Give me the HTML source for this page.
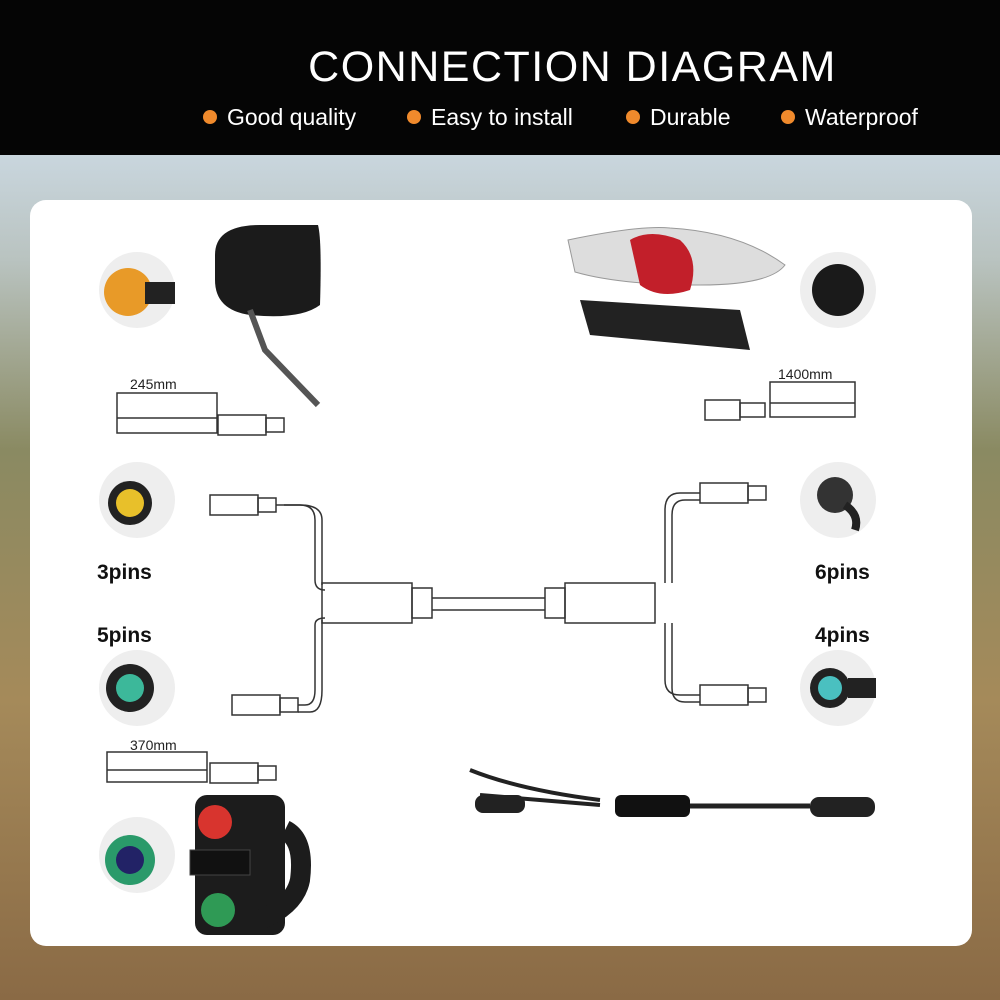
<!DOCTYPE html>
<html><head><meta charset="utf-8">
<style>
html,body{margin:0;padding:0;width:1000px;height:1000px;overflow:hidden;font-family:"Liberation Sans",sans-serif;}
#bg{position:absolute;left:0;top:0;width:1000px;height:1000px;
background:linear-gradient(180deg,#c9d6de 155px,#b9c3c0 260px,#8a8a62 450px,#a58a5a 700px,#8a6a45 1000px);}
#hdr{position:absolute;left:0;top:0;width:1000px;height:155px;background:#050505;}
#title{position:absolute;left:0;width:1000px;top:43px;text-align:center;padding-left:145px;box-sizing:border-box;color:#fff;font-size:43px;letter-spacing:1.5px;}
.b{position:absolute;top:104px;color:#fff;font-size:23px;}
.b:before{content:"";display:inline-block;width:14px;height:14px;border-radius:50%;background:#f08a2c;margin-right:10px;vertical-align:1px;}
#card{position:absolute;left:30px;top:200px;width:942px;height:746px;background:#fff;border-radius:16px;}
.lbl{position:absolute;font-weight:bold;font-size:21px;color:#111;}
svg{position:absolute;left:0;top:0;}
</style></head><body>
<div id="bg"></div>
<div id="hdr"></div>
<div id="title">CONNECTION DIAGRAM</div>
<div class="b" style="left:203px">Good quality</div>
<div class="b" style="left:407px">Easy to install</div>
<div class="b" style="left:626px">Durable</div>
<div class="b" style="left:781px">Waterproof</div>
<div id="card"></div>
<div class="lbl" style="left:97px;top:561px">3pins</div>
<div class="lbl" style="left:97px;top:624px">5pins</div>
<div class="lbl" style="left:815px;top:561px">6pins</div>
<div class="lbl" style="left:815px;top:624px">4pins</div>
<svg width="1000" height="1000" viewBox="0 0 1000 1000" font-family="Liberation Sans,sans-serif">
<g fill="none" stroke="#333" stroke-width="1.5">
<rect x="117" y="393" width="100" height="40"/><line x1="117" y1="418" x2="217" y2="418"/>
<rect x="770" y="382" width="85" height="35"/><line x1="770" y1="403" x2="855" y2="403"/>
<rect x="107" y="752" width="100" height="30"/><line x1="107" y1="770" x2="207" y2="770"/>
<rect x="218" y="415" width="48" height="20"/><rect x="266" y="418" width="18" height="14"/>
<rect x="705" y="400" width="35" height="20"/><rect x="740" y="403" width="25" height="14"/>
<rect x="210" y="763" width="48" height="20"/><rect x="258" y="766" width="18" height="14"/>
<rect x="210" y="495" width="48" height="20"/><rect x="258" y="498" width="18" height="14"/>
<rect x="232" y="695" width="48" height="20"/><rect x="280" y="698" width="18" height="14"/>
<rect x="700" y="483" width="48" height="20"/><rect x="748" y="486" width="18" height="14"/>
<rect x="700" y="685" width="48" height="20"/><rect x="748" y="688" width="18" height="14"/>
<path d="M276 505 H300 Q315 505 315 520 V580 Q315 590 325 590"/>
<path d="M284 505 H300 Q322 505 322 520 V585"/>
<path d="M298 705 H305 Q315 705 315 690 V625 Q315 618 325 618"/>
<path d="M298 712 H310 Q322 712 322 690 V620"/>
<rect x="322" y="583" width="90" height="40"/>
<rect x="412" y="588" width="20" height="30"/>
<path d="M432 598 H545 M432 610 H545"/>
<rect x="545" y="588" width="20" height="30"/>
<rect x="565" y="583" width="90" height="40"/>
<path d="M700 493 H680 Q665 493 665 510 V583"/>
<path d="M700 500 H685 Q672 500 672 515 V583"/>
<path d="M700 695 H680 Q665 695 665 680 V623"/>
<path d="M700 702 H685 Q672 702 672 688 V623"/>
</g>
<g font-size="14" fill="#222">
<text x="130" y="389">245mm</text><text x="778" y="379">1400mm</text><text x="130" y="750">370mm</text>
</g>
<g>
<circle cx="137" cy="290" r="38" fill="#eee"/><circle cx="128" cy="292" r="24" fill="#e89a28"/><rect x="145" y="282" width="30" height="22" fill="#222"/>
<circle cx="137" cy="500" r="38" fill="#eee"/><circle cx="130" cy="503" r="22" fill="#222"/><circle cx="130" cy="503" r="14" fill="#e8c02a"/>
<circle cx="137" cy="688" r="38" fill="#eee"/><circle cx="130" cy="688" r="24" fill="#222"/><circle cx="130" cy="688" r="14" fill="#3cb89a"/>
<circle cx="137" cy="855" r="38" fill="#eee"/><circle cx="130" cy="860" r="25" fill="#2a9a6a"/><circle cx="130" cy="860" r="14" fill="#226"/>
<circle cx="838" cy="290" r="38" fill="#eee"/><circle cx="838" cy="290" r="26" fill="#1a1a1a"/>
<circle cx="838" cy="500" r="38" fill="#eee"/><circle cx="835" cy="495" r="18" fill="#333"/><path d="M845 505 Q860 515 855 530" stroke="#222" stroke-width="8" fill="none"/>
<circle cx="838" cy="688" r="38" fill="#eee"/><circle cx="830" cy="688" r="20" fill="#222"/><circle cx="830" cy="688" r="12" fill="#4ac0c0"/><rect x="848" y="678" width="28" height="20" fill="#222"/>
</g>
<path d="M215 255 Q215 225 260 225 H318 Q322 240 320 305 Q300 320 250 315 Q215 310 215 280Z" fill="#1b1b1b"/>
<path d="M250 310 L265 350 L318 405" stroke="#555" stroke-width="6" fill="none"/>
<path d="M568 240 Q640 225 670 228 Q740 232 785 265 Q770 285 700 285 Q620 285 575 272Z" fill="#ddd" stroke="#999"/>
<path d="M630 240 Q650 228 680 240 Q700 258 690 290 Q660 300 640 285Z" fill="#c21f2a"/>
<path d="M580 300 L740 310 L750 350 L590 335Z" fill="#222"/>
<path d="M480 795 Q540 800 600 805 M470 770 Q520 790 600 800" stroke="#222" stroke-width="4" fill="none"/>
<rect x="475" y="795" width="50" height="18" rx="8" fill="#222"/>
<rect x="615" y="795" width="75" height="22" rx="6" fill="#111"/>
<path d="M690 806 H810" stroke="#222" stroke-width="5"/>
<rect x="810" y="797" width="65" height="20" rx="9" fill="#222"/>
<rect x="195" y="795" width="90" height="140" rx="12" fill="#1c1c1c"/>
<path d="M285 830 Q305 840 300 880 Q295 905 260 920" stroke="#1c1c1c" stroke-width="20" fill="none"/>
<circle cx="215" cy="822" r="17" fill="#d8342e"/>
<circle cx="218" cy="910" r="17" fill="#2f9a55"/>
<rect x="190" y="850" width="60" height="25" fill="#111" stroke="#444"/>
</svg>
</body></html>
